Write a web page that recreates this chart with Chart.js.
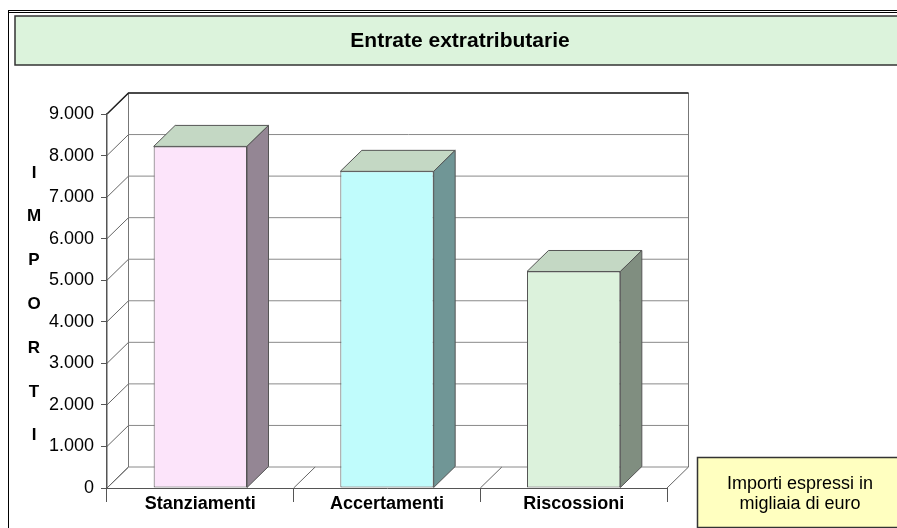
<!DOCTYPE html>
<html>
<head>
<meta charset="utf-8">
<script src="https://cdn.jsdelivr.net/npm/chart.js@4"></script>
<style>
  html, body { margin: 0; padding: 0; overflow: hidden; background: #fff; }
  canvas { display: block; }
</style>
</head>
<body>
<canvas id="chart" width="920" height="528"></canvas>
<script>
const chartTitle = 'Entrate extratributarie';
const categories = ['Stanziamenti', 'Accertamenti', 'Riscossioni'];
const values = [8220, 7620, 5210];
const yMax = 9000;
const yStep = 1000;
const axisTitle = 'IMPORTI';
const noteLines = ['Importi espressi in', 'migliaia di euro'];

const frontColors = ['#FCE4FA', '#C0FCFC', '#DCF2DC'];
const sideColors = ['#948694', '#709696', '#808E80'];
const topColor = '#C4D8C4';

const FONT = '"Liberation Sans", Arial, sans-serif';
const DX = 21.5, DY = 21; // depth of the 3d box

Chart.defaults.font.family = FONT;
Chart.defaults.color = '#000';

const fmt = (v) => String(v).replace(/\B(?=(\d{3})+(?!\d))/g, '.');

const line = (ctx, pts, color, w) => {
    ctx.beginPath();
    ctx.moveTo(pts[0][0], pts[0][1]);
    pts.slice(1).forEach(p => ctx.lineTo(p[0], p[1]));
    ctx.strokeStyle = color;
    ctx.lineWidth = w;
    ctx.stroke();
};

const poly = (ctx, pts, fill, stroke) => {
    ctx.beginPath();
    ctx.moveTo(pts[0][0], pts[0][1]);
    pts.slice(1).forEach(p => ctx.lineTo(p[0], p[1]));
    ctx.closePath();
    ctx.fillStyle = fill;
    ctx.fill();
    ctx.strokeStyle = stroke;
    ctx.lineWidth = 1;
    ctx.stroke();
};

const box3d = {
    id: 'box3d',
    beforeDraw(chart) {
        const { ctx, chartArea: a, scales: { y } } = chart;
        ctx.save();
        ctx.fillStyle = '#fff';
        ctx.fillRect(0, 0, chart.width, chart.height);

        // outer frame
        ctx.strokeStyle = '#000';
        ctx.lineWidth = 1;
        ctx.strokeRect(8.5, 10.5, chart.width, chart.height);
        line(ctx, [[8, 12.5], [chart.width, 12.5]], '#000', 1);

        // title box
        ctx.fillStyle = '#DCF3DC';
        ctx.fillRect(15, 16, 890, 49);
        ctx.strokeStyle = '#333';
        ctx.lineWidth = 1.5;
        ctx.strokeRect(15, 16, 890, 49);
        ctx.fillStyle = '#000';
        ctx.font = 'bold 21px ' + FONT;
        ctx.textAlign = 'center';
        ctx.textBaseline = 'middle';
        ctx.fillText(chartTitle, 460, 41.5);

        // vertical axis title, one letter per row
        ctx.font = 'bold 17px ' + FONT;
        axisTitle.split('').forEach((ch, i) => ctx.fillText(ch, 34, 173 + i * 43.8));

        // note box
        ctx.fillStyle = '#FFFFC0';
        ctx.fillRect(697.5, 457.5, 206, 70);
        ctx.strokeStyle = '#333';
        ctx.lineWidth = 1.5;
        ctx.strokeRect(697.5, 457.5, 206, 70);
        ctx.fillStyle = '#000';
        ctx.font = '18px ' + FONT;
        noteLines.forEach((t, i) => ctx.fillText(t, 800, 484 + i * 20));

        // walls
        const bx0 = a.left + DX, bx1 = a.right + DX;
        const by0 = a.top - DY, by1 = a.bottom - DY;
        y.ticks.forEach(t => {
            const py = y.getPixelForValue(t.value);
            line(ctx, [[a.left, py], [bx0, py - DY]], '#666', 1);
            line(ctx, [[bx0, py - DY], [bx1, py - DY]], '#8a8a8a', 1);
        });
        line(ctx, [[bx1, by0], [bx1, by1]], '#777', 1);
        line(ctx, [[bx0, by0], [bx0, by1]], '#777', 1);
        const n = categories.length;
        for (let i = 0; i <= n; i++) {
            const px = a.left + i * (a.right - a.left) / n;
            line(ctx, [[px, a.bottom], [px + DX, by1]], '#666', 1);
        }
        line(ctx, [[a.left, a.top], [bx0, by0], [bx1, by0]], '#222', 1.5);
        ctx.restore();
    },
    afterDatasetsDraw(chart) {
        const ctx = chart.ctx;
        ctx.save();
        chart.getDatasetMeta(0).data.forEach((bar, i) => {
            const { x, y, width, base } = bar.getProps(['x', 'y', 'width', 'base'], true);
            const l = x - width / 2, r = x + width / 2;
            poly(ctx, [[l, y], [l + DX, y - DY], [r + DX, y - DY], [r, y]], topColor, '#555');
            poly(ctx, [[r, y], [r + DX, y - DY], [r + DX, base - DY], [r, base]], sideColors[i], '#555');
        });
        ctx.restore();
    }
};

new Chart(document.getElementById('chart'), {
    type: 'bar',
    data: {
        labels: categories,
        datasets: [{
            data: values,
            backgroundColor: frontColors,
            borderColor: '#555',
            borderWidth: 1,
            borderSkipped: false,
            barPercentage: 0.5,
            categoryPercentage: 1
        }]
    },
    options: {
        responsive: false,
        animation: false,
        devicePixelRatio: 1,
        layout: { padding: { top: 114, right: 253, bottom: 0, left: 0 } },
        plugins: {
            legend: { display: false },
            title: { display: false },
            tooltip: { enabled: false }
        },
        scales: {
            x: {
                afterFit: (s) => { s.height = 40; },
                grid: { drawOnChartArea: false, drawTicks: true, tickLength: 14, color: '#555' },
                border: { display: true, color: '#555', width: 1 },
                ticks: { padding: -9, font: { size: 18, weight: 'bold' }, color: '#000' }
            },
            y: {
                min: 0,
                max: yMax,
                afterFit: (s) => { s.width = 107; },
                grid: { drawOnChartArea: false, drawTicks: true, tickLength: 6, color: '#555' },
                border: { display: true, color: '#555', width: 1.5 },
                ticks: { stepSize: yStep, padding: 7, font: { size: 18 }, color: '#000', callback: (v) => fmt(v) }
            }
        }
    },
    plugins: [box3d]
});
</script>
</body>
</html>
